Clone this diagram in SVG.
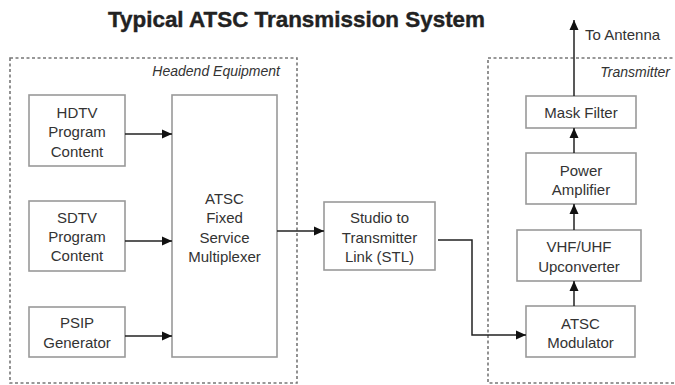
<svg xmlns="http://www.w3.org/2000/svg" width="675" height="385" viewBox="0 0 675 385">
<defs>
<marker id="ah" viewBox="0 0 10 10" refX="10" refY="5" markerWidth="10" markerHeight="10" markerUnits="userSpaceOnUse" orient="auto">
<path d="M0,0.5 L10,5 L0,9.5 Z" fill="#111"/>
</marker>
<style>
.grp{fill:none;stroke:#777;stroke-width:1.6;stroke-dasharray:3,2.5}
.box{fill:#fff;stroke:#999;stroke-width:1.6}
.t{font-family:"Liberation Sans",Arial,sans-serif;font-size:15px;fill:#333;text-anchor:middle}
.gl{font-family:"Liberation Sans",Arial,sans-serif;font-size:14px;font-style:italic;fill:#333;text-anchor:end}
.title{font-family:"Liberation Sans",Arial,sans-serif;font-size:22px;font-weight:bold;fill:#222;stroke:#222;stroke-width:0.4}
.c{fill:none;stroke:#222;stroke-width:1.5;marker-end:url(#ah)}
</style>
</defs>
<rect width="675" height="385" fill="#fff"/>
<text class="title" x="108" y="27" textLength="377" lengthAdjust="spacingAndGlyphs">Typical ATSC Transmission System</text>

<g id="headend">
<rect class="grp" x="10" y="58" width="287" height="325"/>
<text class="gl" x="280" y="76">Headend Equipment</text>
</g>
<g id="transmitter">
<rect class="grp" x="488" y="58" width="200" height="325"/>
<text class="gl" x="670" y="77">Transmitter</text>
</g>

<g id="hdtv">
<rect class="box" x="29" y="95" width="96" height="71"/>
<text class="t" x="77" y="117.5">HDTV</text>
<text class="t" x="77" y="137">Program</text>
<text class="t" x="77" y="156.5">Content</text>
</g>
<g id="sdtv">
<rect class="box" x="29" y="201" width="96" height="70"/>
<text class="t" x="77" y="222.5">SDTV</text>
<text class="t" x="77" y="241.5">Program</text>
<text class="t" x="77" y="260.5">Content</text>
</g>
<g id="psip">
<rect class="box" x="29" y="307" width="96" height="50"/>
<text class="t" x="77" y="327.5">PSIP</text>
<text class="t" x="77" y="347.5">Generator</text>
</g>
<g id="mux">
<rect class="box" x="172" y="95" width="105" height="262"/>
<text class="t" x="224.5" y="203.5">ATSC</text>
<text class="t" x="224.5" y="222.5">Fixed</text>
<text class="t" x="224.5" y="242.5">Service</text>
<text class="t" x="224.5" y="261.5">Multiplexer</text>
</g>
<g id="stl">
<rect class="box" x="324" y="202" width="111" height="68"/>
<text class="t" x="379.5" y="222.5">Studio to</text>
<text class="t" x="379.5" y="242.5">Transmitter</text>
<text class="t" x="379.5" y="261.5">Link (STL)</text>
</g>
<g id="modulator">
<rect class="box" x="526" y="306" width="109" height="51"/>
<text class="t" x="580.5" y="328.5">ATSC</text>
<text class="t" x="580.5" y="347.5">Modulator</text>
</g>
<g id="upconverter">
<rect class="box" x="517" y="230" width="124" height="51"/>
<text class="t" x="579" y="252">VHF/UHF</text>
<text class="t" x="579" y="271.5">Upconverter</text>
</g>
<g id="amplifier">
<rect class="box" x="526" y="153" width="110" height="51"/>
<text class="t" x="581" y="176">Power</text>
<text class="t" x="581" y="194.5">Amplifier</text>
</g>
<g id="maskfilter">
<rect class="box" x="526" y="96" width="110" height="32"/>
<text class="t" x="581" y="117.5">Mask Filter</text>
</g>
<g id="antenna-label">
<text class="t" x="585" y="40" style="text-anchor:start">To Antenna</text>
</g>

<g id="connectors">
<path class="c" d="M125,134 H172"/>
<path class="c" d="M125,241 H172"/>
<path class="c" d="M125,336 H172"/>
<path class="c" d="M277,231 H324"/>
<path class="c" d="M438,240 H472 V335 H526"/>
<path class="c" d="M574,306 V281"/>
<path class="c" d="M574,230 V204"/>
<path class="c" d="M574,153 V128"/>
<path class="c" d="M574,96 V20"/>
</g>
</svg>
